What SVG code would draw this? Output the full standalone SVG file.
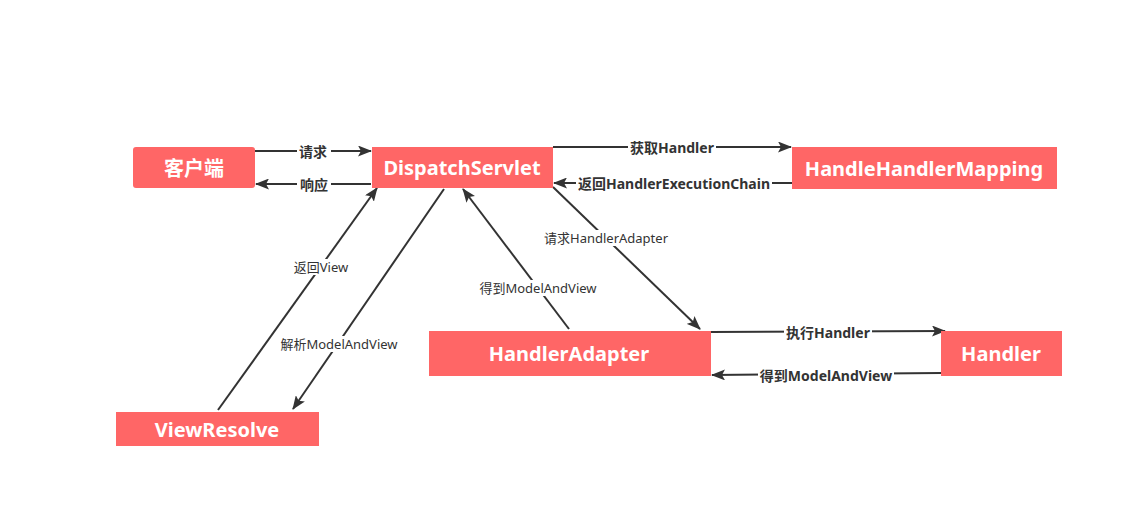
<svg xmlns="http://www.w3.org/2000/svg" width="1124" height="507" viewBox="0 0 1124 507">
<defs>
<marker id="ah" markerWidth="14" markerHeight="11" refX="13" refY="5.5" orient="auto" markerUnits="userSpaceOnUse">
<path d="M0,0 L14,5.5 L0,11 L3,5.5 Z" fill="#333"/>
</marker>
</defs>
<style>
.box{fill:#FF6666;}
.nt{fill:#fff;font-family:"Noto Sans","Noto Sans CJK SC",sans-serif;font-weight:bold;font-size:20px;text-anchor:middle;dominant-baseline:central;}
.ln{stroke:#333;stroke-width:2;fill:none;marker-end:url(#ah);}
.lb{fill:#333;font-family:"Noto Sans","Noto Sans CJK SC",sans-serif;font-size:13px;text-anchor:middle;dominant-baseline:central;}
.b{font-weight:bold;font-size:14px;}
.bg{fill:#fff;}
</style>
<rect width="1124" height="507" fill="#fff"/>
<g id="connectors">
<line class="ln" x1="255" y1="151" x2="371" y2="151"/>
<line class="ln" x1="371" y1="184" x2="256" y2="184"/>
<line class="ln" x1="553" y1="147" x2="791" y2="147"/>
<line class="ln" x1="792" y1="183" x2="554" y2="183"/>
<line class="ln" x1="553" y1="187" x2="700" y2="329"/>
<line class="ln" x1="569" y1="329" x2="463" y2="189"/>
<line class="ln" x1="218" y1="410" x2="377" y2="188"/>
<line class="ln" x1="444" y1="189" x2="293" y2="409"/>
<line class="ln" x1="711" y1="332" x2="945" y2="331"/>
<line class="ln" x1="941" y1="373" x2="712" y2="375"/>
<rect class="bg" x="297" y="143" width="34" height="16"/>
<text class="lb b" x="313" y="151">请求</text>
<rect class="bg" x="297" y="176" width="34" height="16"/>
<text class="lb b" x="314" y="184">响应</text>
<rect class="bg" x="628" y="139" width="88" height="16"/>
<text class="lb b" x="672" y="147">获取Handler</text>
<rect class="bg" x="576" y="175" width="196" height="16"/>
<text class="lb b" x="674" y="183">返回HandlerExecutionChain</text>
<rect class="bg" x="544" y="230" width="124" height="16"/>
<text class="lb" x="606" y="238">请求HandlerAdapter</text>
<rect class="bg" x="477" y="280" width="122" height="16"/>
<text class="lb" x="538" y="288">得到ModelAndView</text>
<rect class="bg" x="292" y="259" width="58" height="16"/>
<text class="lb" x="321" y="267">返回View</text>
<rect class="bg" x="278" y="336" width="122" height="16"/>
<text class="lb" x="339" y="344">解析ModelAndView</text>
<rect class="bg" x="784" y="324" width="88" height="16"/>
<text class="lb b" x="828" y="332">执行Handler</text>
<rect class="bg" x="758" y="367" width="136" height="16"/>
<text class="lb b" x="826" y="375">得到ModelAndView</text>
</g>
<g id="client"><rect class="box" x="133" y="147" width="122" height="41" rx="3"/><text class="nt" x="194" y="168">客户端</text></g>
<g id="dispatch"><rect class="box" x="372" y="147" width="181" height="41"/><text class="nt" x="462" y="167">DispatchServlet</text></g>
<g id="mapping"><rect class="box" x="792" y="147" width="265" height="42"/><text class="nt" x="924" y="168">HandleHandlerMapping</text></g>
<g id="adapter"><rect class="box" x="429" y="331" width="282" height="45"/><text class="nt" x="569" y="353">HandlerAdapter</text></g>
<g id="handler"><rect class="box" x="941" y="331" width="121" height="45"/><text class="nt" x="1001" y="353">Handler</text></g>
<g id="viewresolve"><rect class="box" x="116" y="412" width="203" height="34"/><text class="nt" x="217" y="429">ViewResolve</text></g>
</svg>
